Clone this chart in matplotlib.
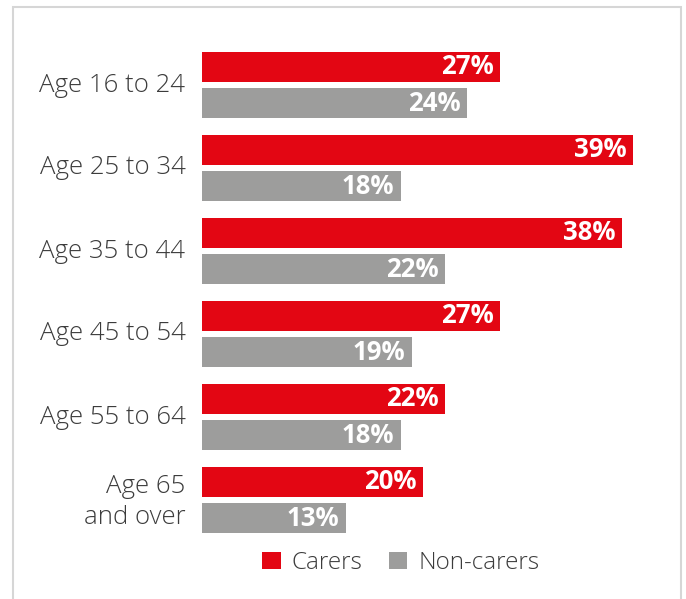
import matplotlib
matplotlib.use("Agg")
import matplotlib.pyplot as plt
from matplotlib.patches import Rectangle
import numpy as np

plt.rcParams['font.family'] = ['Open Sans', 'DejaVu Sans']

age_groups = ["Age 16 to 24", "Age 25 to 34", "Age 35 to 44",
              "Age 45 to 54", "Age 55 to 64", "Age 65\nand over"]
carers = [27, 39, 38, 27, 22, 20]
non_carers = [24, 18, 22, 19, 18, 13]

RED = "#E30613"
GREY = "#9D9D9C"
TEXT = "#3c3c3c"

W, H = 686, 599
fig = plt.figure(figsize=(W / 100, H / 100), dpi=100)

# light frame around the panel (open at the bottom edge)
fig.patches.append(Rectangle((13 / W, -0.05), 668 / W, 1 - 7 / H + 0.05,
                             transform=fig.transFigure, fill=False,
                             edgecolor="#d6d6d6", linewidth=1.5))

ax = fig.add_axes([202 / W, 1 - 541.5 / H, 442 / W, 498 / H])
y = np.arange(len(age_groups))
off = 0.217
h = 0.361
ax.barh(y - off, carers, height=h, color=RED, label="Carers")
ax.barh(y + off, non_carers, height=h, color=GREY, label="Non-carers")
ax.set_xlim(0, 40)
ax.set_ylim(5.5, -0.5)
ax.axis("off")

for i, (c, n) in enumerate(zip(carers, non_carers)):
    ax.text(c - 0.6, i - off, f"{c}%", ha="right", va="center",
            color="white", fontsize=18.5, fontweight="bold")
    ax.text(n - 0.6, i + off, f"{n}%", ha="right", va="center",
            color="white", fontsize=18.5, fontweight="bold")
    ax.text(-1.5, i + (0.02 if "\n" in age_groups[i] else 0), age_groups[i],
            ha="right", va="center", color=TEXT, fontsize=18.5,
            fontweight="light", linespacing=1.32)

leg = fig.legend(loc="center", bbox_to_anchor=(401 / W, 1 - 563 / H),
                 ncol=2, frameon=False, handlelength=0.75,
                 handleheight=0.75, handletextpad=0.45, columnspacing=1.1,
                 prop={'size': 17.5, 'weight': 'light'})
for t in leg.get_texts():
    t.set_color(TEXT)

fig.savefig("out.png", dpi=100)
